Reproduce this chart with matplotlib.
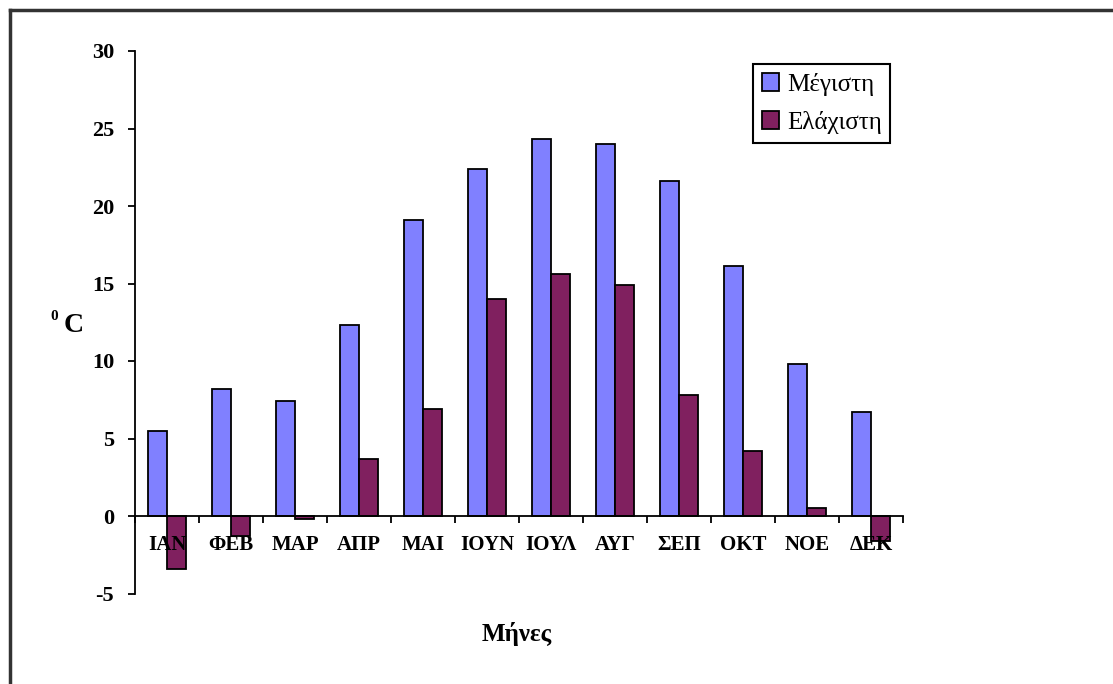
import numpy as np
import matplotlib
matplotlib.use("Agg")
import matplotlib.pyplot as plt
from matplotlib.lines import Line2D

months = ["ΙΑΝ", "ΦΕΒ", "ΜΑΡ", "ΑΠΡ", "ΜΑΙ", "ΙΟΥΝ", "ΙΟΥΛ", "ΑΥΓ", "ΣΕΠ", "ΟΚΤ", "ΝΟΕ", "ΔΕΚ"]
max_temp = [5.5, 8.2, 7.4, 12.3, 19.1, 22.4, 24.3, 24.0, 21.6, 16.1, 9.8, 6.7]
min_temp = [-3.4, -1.3, -0.2, 3.7, 6.9, 14.0, 15.6, 14.9, 7.8, 4.2, 0.5, -1.6]
yticks = [-5, 0, 5, 10, 15, 20, 25, 30]

plt.rcParams['font.family'] = ['Liberation Serif', 'DejaVu Serif']

W, H = 1113, 684
fig = plt.figure(figsize=(W / 100, H / 100), dpi=100)
ax = fig.add_axes([135 / W, 1 - 593.5 / H, (903 - 135) / W, (593.5 - 51) / H])

x = np.arange(len(months))
bw = 0.3
ax.bar(x - bw / 2, max_temp, bw, color='#8080ff', edgecolor='black', linewidth=1.3, label='Μέγιστη', zorder=1)
ax.bar(x + bw / 2, min_temp, bw, color='#80205f', edgecolor='black', linewidth=1.3, label='Ελάχιστη', zorder=1)

ax.set_xlim(-0.5, len(months) - 0.5)
ax.set_ylim(-5, 30)
ax.spines['top'].set_visible(False)
ax.spines['right'].set_visible(False)
ax.spines['bottom'].set_position(('data', 0))
for s in ('left', 'bottom'):
    ax.spines[s].set_linewidth(1.3)

ax.set_yticks(yticks)
ax.set_yticklabels([str(v) for v in yticks], fontsize=16, fontweight='bold')
ax.tick_params(axis='y', direction='out', length=5, width=1.3, pad=10)

ax.set_xticks(x)
ax.set_xticklabels(months, fontsize=15, fontweight='bold')
ax.set_xticks(np.arange(-0.5, len(months)), minor=True)
ax.tick_params(axis='x', which='major', length=0, pad=14)
ax.tick_params(axis='x', which='minor', direction='out', length=5, width=1.3)

fig.text(517 / W, 1 - 634 / H, 'Μήνες', fontsize=18, fontweight='bold', ha='center', va='center')
fig.text(64 / W, 1 - 326 / H, 'C', fontsize=20, fontweight='bold', ha='left', va='center')
fig.text(54.5 / W, 1 - 316 / H, '0', fontsize=11, fontweight='bold', ha='center', va='center')

leg = ax.legend(loc='upper left', bbox_to_anchor=(753 / W, 1 - 64 / H), bbox_transform=fig.transFigure,
                fancybox=False, framealpha=1, edgecolor='black', fontsize=18,
                handlelength=0.7, handleheight=0.7, handletextpad=0.3, borderpad=0.35,
                labelspacing=0.6, borderaxespad=0)
leg.get_frame().set_linewidth(1.5)

fig.add_artist(Line2D([10 / W, 1], [1 - 10 / H, 1 - 10 / H], transform=fig.transFigure, color='#333333', linewidth=2.5))
fig.add_artist(Line2D([10 / W, 10 / W], [0, 1 - 10 / H], transform=fig.transFigure, color='#333333', linewidth=2.5))

fig.savefig('out.png', dpi=100)
